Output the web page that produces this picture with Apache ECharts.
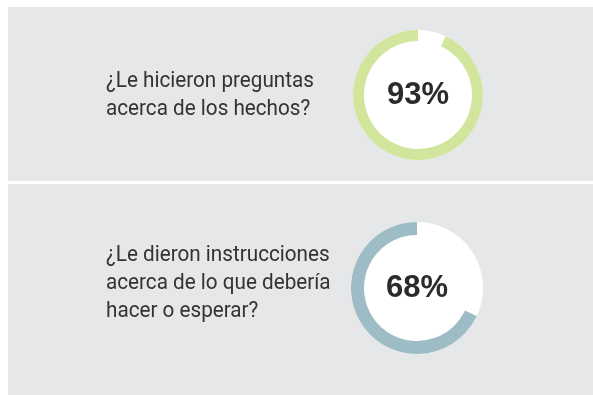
<!DOCTYPE html>
<html>
<head>
<meta charset="utf-8">
<script src="https://cdn.jsdelivr.net/npm/echarts@6/dist/echarts.min.js"></script>
<style>
  html, body { margin: 0; padding: 0; background: #ffffff; }
  #chart { width: 593px; height: 395px; }
</style>
</head>
<body>
<div id="chart"></div>
<script>
// Survey answers: one question per panel, with the share who said yes
const questions = [
  ['¿Le hicieron preguntas', 'acerca de los hechos?'],
  ['¿Le dieron instrucciones', 'acerca de lo que debería', 'hacer o esperar?']
];
const percents = [93, 68];
const ringColors = ['#d2e59c', '#9ebcc5'];

// Panel layout
const panels = [
  { top: 7, bottom: 181, cx: 418, cy: 95, textY: 81, outerR: 65, innerR: 54 },
  { top: 184, bottom: 395, cx: 417, cy: 288, textY: 255, outerR: 66, innerR: 53 }
];
const lineGap = 28;

const chart = echarts.init(document.getElementById('chart'), null, { renderer: 'canvas' });

const graphics = [];
const series = [];

panels.forEach((p, i) => {
  graphics.push({
    type: 'rect', z: 0,
    shape: { x: 8, y: p.top, width: 585, height: p.bottom - p.top },
    style: { fill: '#e6e7e9' }
  });
  questions[i].forEach((line, j) => {
    graphics.push({
      type: 'text', z: 5,
      x: 106, y: p.textY + j * lineGap,
      scaleX: 0.94,
      style: {
        text: line,
        font: '22px Roboto, sans-serif',
        fill: '#333333',
        textVerticalAlign: 'middle'
      }
    });
  });

  // white disc behind the ring
  series.push({
    type: 'pie', silent: true, z: 1,
    center: [p.cx, p.cy], radius: [0, p.outerR],
    label: { show: false }, labelLine: { show: false },
    itemStyle: { color: '#ffffff' },
    data: [{ value: 1 }]
  });
  // ring: share answered plus transparent remainder, drawn counter-clockwise from 12 o'clock
  series.push({
    type: 'pie', silent: true, z: 2,
    center: [p.cx, p.cy], radius: [p.innerR, p.outerR],
    startAngle: 90, clockwise: false,
    label: { show: false }, labelLine: { show: false },
    data: [
      { value: percents[i], itemStyle: { color: ringColors[i] },
        label: {
          show: true, position: 'center',
          formatter: '{c}%',
          fontFamily: '"Liberation Sans", Arial, sans-serif',
          fontWeight: 'bold', fontSize: 31, color: '#2b2b2b'
        }
      },
      { value: 100 - percents[i], itemStyle: { color: 'rgba(0,0,0,0)' } }
    ]
  });
});

chart.setOption({
  animation: false,
  graphic: graphics,
  series: series
});
</script>
</body>
</html>
